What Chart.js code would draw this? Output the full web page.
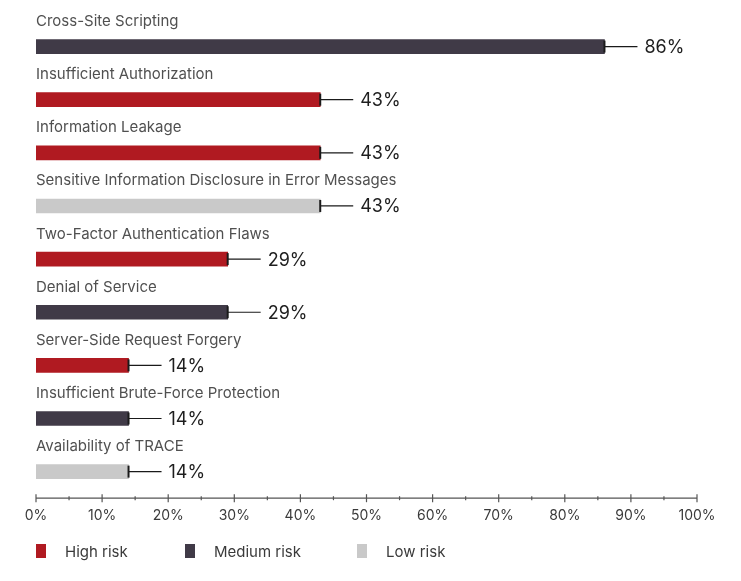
<!DOCTYPE html>
<html>
<head>
<meta charset="utf-8">
<script src="https://cdn.jsdelivr.net/npm/chart.js@4/dist/chart.umd.min.js"></script>
<style>
  html, body { margin: 0; padding: 0; background: #fff; }
  #wrap { width: 741px; height: 581px; position: relative; }
</style>
</head>
<body>
<div id="wrap"><canvas id="vulnChart"></canvas></div>
<script>
const categories = [
  'Cross-Site Scripting',
  'Insufficient Authorization',
  'Information Leakage',
  'Sensitive Information Disclosure in Error Messages',
  'Two-Factor Authentication Flaws',
  'Denial of Service',
  'Server-Side Request Forgery',
  'Insufficient Brute-Force Protection',
  'Availability of TRACE'
];
const shares = [86, 43, 43, 43, 29, 29, 14, 14, 14];
const riskOf = ['medium', 'high', 'high', 'low', 'high', 'medium', 'high', 'medium', 'low'];
const riskKeys = ['high', 'medium', 'low'];
const riskLabels = ['High risk', 'Medium risk', 'Low risk'];
const riskColors = { high: '#b01a21', medium: '#403a47', low: '#c9c9c9' };

const FONT = 'Inter, "Open Sans", sans-serif';

// category names above bars, whiskers + value labels, axis ticks, legend
const decorations = {
  id: 'decorations',
  afterDatasetsDraw(chart) {
    const { ctx, chartArea } = chart;
    const xs = chart.scales.x;
    const meta = chart.getDatasetMeta(0);
    ctx.save();

    meta.data.forEach((bar, i) => {
      const yc = bar.y;
      const xe = xs.getPixelForValue(shares[i]);

      ctx.fillStyle = '#505050';
      ctx.font = '400 15px ' + FONT;
      ctx.textAlign = 'left';
      ctx.textBaseline = 'middle';
      ctx.fillText(categories[i], chartArea.left, yc - 25);

      ctx.strokeStyle = '#1a1a1a';
      ctx.lineWidth = 2;
      ctx.beginPath();
      ctx.moveTo(xe, yc - 6);
      ctx.lineTo(xe, yc + 6);
      ctx.stroke();
      ctx.lineWidth = 1.2;
      ctx.beginPath();
      ctx.moveTo(xe, yc);
      ctx.lineTo(xe + 33, yc);
      ctx.stroke();

      ctx.fillStyle = '#1e1e1e';
      ctx.font = '400 18px ' + FONT;
      ctx.fillText(shares[i] + '%', xe + 40, yc + 1);
    });

    // x axis line with crossing ticks
    const yb = chartArea.bottom;
    ctx.strokeStyle = '#555';
    ctx.lineWidth = 1.2;
    ctx.beginPath();
    ctx.moveTo(xs.getPixelForValue(0), yb);
    ctx.lineTo(xs.getPixelForValue(100), yb);
    ctx.stroke();
    for (let v = 0; v <= 100; v += 5) {
      const x = xs.getPixelForValue(v);
      const h = v % 10 === 0 ? 4 : 2;
      ctx.beginPath();
      ctx.moveTo(x, yb - h);
      ctx.lineTo(x, yb + h);
      ctx.stroke();
    }

    // legend
    const ly = 551;
    const legendX = [36, 185, 357];
    riskKeys.forEach((k, j) => {
      ctx.fillStyle = riskColors[k];
      ctx.fillRect(legendX[j], ly - 7, 10, 14);
      ctx.fillStyle = '#3a3a3a';
      ctx.font = '400 15px ' + FONT;
      ctx.textAlign = 'left';
      ctx.fillText(riskLabels[j], legendX[j] + 29, ly + 1);
    });

    ctx.restore();
  }
};

new Chart(document.getElementById('vulnChart'), {
  type: 'bar',
  data: {
    labels: categories,
    datasets: [{
      data: shares,
      backgroundColor: riskOf.map(r => riskColors[r]),
      barThickness: 14,
      borderWidth: 0
    }]
  },
  options: {
    indexAxis: 'y',
    responsive: true,
    maintainAspectRatio: false,
    animation: false,
    layout: { padding: { left: 36, right: 44, top: 20, bottom: 56 } },
    plugins: {
      legend: { display: false },
      tooltip: { enabled: false }
    },
    scales: {
      x: {
        min: 0,
        max: 100,
        grid: { display: false },
        border: { display: false },
        ticks: {
          stepSize: 10,
          padding: 1,
          color: '#3a3a3a',
          font: { family: FONT, size: 14, weight: 400 },
          callback: v => v + '%',
          maxRotation: 0
        }
      },
      y: {
        display: false
      }
    }
  },
  plugins: [decorations]
});
</script>
</body>
</html>
